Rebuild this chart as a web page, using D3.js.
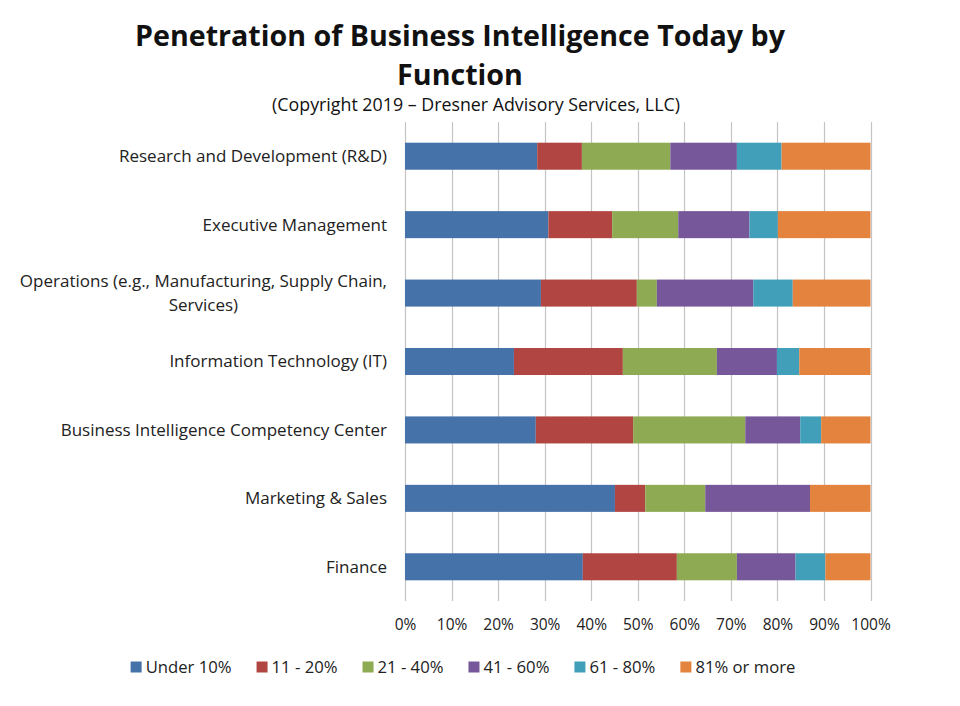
<!DOCTYPE html>
<html>
<head>
<meta charset="utf-8">
<script src="https://cdn.jsdelivr.net/npm/d3@7"></script>
<style>
  html, body { margin: 0; padding: 0; background: #fff; }
  svg { display: block; }
  text { font-family: "Open Sans", "DejaVu Sans", sans-serif; }
</style>
</head>
<body>
<svg id="chart" width="960" height="706"></svg>
<script>
// ---------- DATA ----------
const categories = [
  "Research and Development (R&D)",
  "Executive Management",
  "Operations (e.g., Manufacturing, Supply Chain,\nServices)",
  "Information Technology (IT)",
  "Business Intelligence Competency Center",
  "Marketing & Sales",
  "Finance"
];
const seriesNames = ["Under 10%", "11 - 20%", "21 - 40%", "41 - 60%", "61 - 80%", "81% or more"];
const under10   = [28.4, 30.8, 29.2, 23.4, 28.1, 45.1, 38.2];
const pct11_20  = [ 9.6, 13.7, 20.6, 23.4, 20.9,  6.5, 20.2];
const pct21_40  = [19.0, 14.2,  4.3, 20.2, 24.1, 12.9, 12.9];
const pct41_60  = [14.3, 15.3, 20.7, 12.9, 11.8, 22.5, 12.6];
const pct61_80  = [ 9.6,  6.1,  8.5,  4.8,  4.5,  0.0,  6.4];
const pct81plus = [19.1, 19.9, 16.7, 15.3, 10.6, 13.0,  9.7];
const tickValues = [0, 0.1, 0.2, 0.3, 0.4, 0.5, 0.6, 0.7, 0.8, 0.9, 1.0];
const colors = ["#4672AA", "#B04542", "#8EAA52", "#76579A", "#419FB9", "#E3833D"];
const titleLines = ["Penetration of Business Intelligence Today by", "Function"];
const subtitle = "(Copyright 2019 \u2013 Dresner Advisory Services, LLC)";

// ---------- BUILD ----------
const seriesValues = [under10, pct11_20, pct21_40, pct41_60, pct61_80, pct81plus];
const table = categories.map((c, i) => {
  const row = { category: c };
  seriesNames.forEach((s, j) => row[s] = seriesValues[j][i]);
  return row;
});
const stacked = d3.stack().keys(seriesNames).offset(d3.stackOffsetExpand)(table);

const svg = d3.select("#chart");
const plot = { left: 405, right: 870.5, top: 122, bottom: 601 };

const x = d3.scaleLinear().domain([0, 1]).range([plot.left, plot.right]);
const y = d3.scaleBand().domain(categories).range([plot.top, plot.bottom])
  .paddingInner(0.605).paddingOuter(0.3025);
const color = d3.scaleOrdinal().domain(seriesNames).range(colors);

// helper: font size that makes a given string reach a target width
function fitSize(str, target, base, weight) {
  const t = svg.append("text").attr("font-size", base).attr("font-weight", weight || "normal").text(str);
  const w = t.node().getComputedTextLength();
  t.remove();
  return +(base * target / w).toFixed(2);
}

// Title
const titleSize = fitSize(titleLines[0], 650, 26, "bold");
svg.append("text").attr("x", 460).attr("y", 46).attr("text-anchor", "middle")
  .attr("font-weight", "bold").attr("font-size", titleSize).attr("fill", "#111").text(titleLines[0]);
svg.append("text").attr("x", 460).attr("y", 85).attr("text-anchor", "middle")
  .attr("font-weight", "bold").attr("font-size", titleSize).attr("fill", "#111").text(titleLines[1]);
const subSize = fitSize(subtitle, 408, 16);
svg.append("text").attr("x", 476).attr("y", 111).attr("text-anchor", "middle")
  .attr("font-size", subSize).attr("fill", "#111").text(subtitle);

// Gridlines
svg.append("g").selectAll("line").data(tickValues).join("line")
  .attr("x1", d => Math.round(x(d)) + 0.5).attr("x2", d => Math.round(x(d)) + 0.5)
  .attr("y1", plot.top).attr("y2", plot.bottom)
  .attr("stroke", "#c4c4c4").attr("stroke-width", 1.2);

// Bars
svg.append("g").selectAll("g").data(stacked).join("g")
  .attr("fill", d => color(d.key))
  .selectAll("rect").data(d => d).join("rect")
  .attr("x", d => x(d[0]))
  .attr("y", d => y(d.data.category))
  .attr("width", d => Math.max(0, x(d[1]) - x(d[0])))
  .attr("height", y.bandwidth());

// X axis labels
const xAxis = d3.axisBottom(x).tickValues(tickValues).tickFormat(d3.format(".0%")).tickSize(0).tickPadding(0);
const gx = svg.append("g").attr("transform", `translate(0, ${plot.bottom + 18})`).call(xAxis);
gx.select(".domain").remove();
gx.selectAll("text").attr("font-family", "\"Open Sans\", sans-serif").attr("font-size", 15.5).attr("fill", "#222");

// Category labels
const labelRight = 387;
const labelSize = fitSize(categories[0], 268, 15);
const gl = svg.append("g");
categories.forEach(c => {
  const lines = c.split("\n");
  const cy = y(c) + y.bandwidth() / 2;
  const lh = 24.5;
  if (lines.length === 1) {
    gl.append("text").attr("x", labelRight).attr("y", cy).attr("dy", "0.35em")
      .attr("text-anchor", "end").attr("font-size", labelSize).attr("fill", "#222").text(c);
  } else {
    const tmp = lines.map(l => gl.append("text").attr("font-size", labelSize).text(l));
    const maxW = d3.max(tmp, t => t.node().getComputedTextLength());
    tmp.forEach(t => t.remove());
    const cx = labelRight - maxW / 2;
    lines.forEach((l, i) => {
      gl.append("text").attr("x", cx).attr("y", cy + (i - (lines.length - 1) / 2) * lh).attr("dy", "0.35em")
        .attr("text-anchor", "middle").attr("font-size", labelSize).attr("fill", "#222").text(l);
    });
  }
});

// Legend (flow layout, centered)
const legendY = 667, sq = 11, gapSq = 4, gapItem = 25, legendCenter = 463;
const legendSize = fitSize(seriesNames[0], 86, 15);
const lg = svg.append("g");
const items = seriesNames.map(s => {
  const g = lg.append("g");
  g.append("rect").attr("width", sq).attr("height", sq).attr("y", -sq / 2).attr("fill", color(s));
  const t = g.append("text").attr("x", sq + gapSq).attr("dy", "0.35em").attr("font-size", legendSize).attr("fill", "#222").text(s);
  return { g, w: sq + gapSq + t.node().getComputedTextLength() };
});
const total = d3.sum(items, d => d.w) + gapItem * (items.length - 1);
let cx = legendCenter - total / 2;
items.forEach(it => { it.g.attr("transform", `translate(${cx}, ${legendY})`); cx += it.w + gapItem; });
</script>
</body>
</html>
